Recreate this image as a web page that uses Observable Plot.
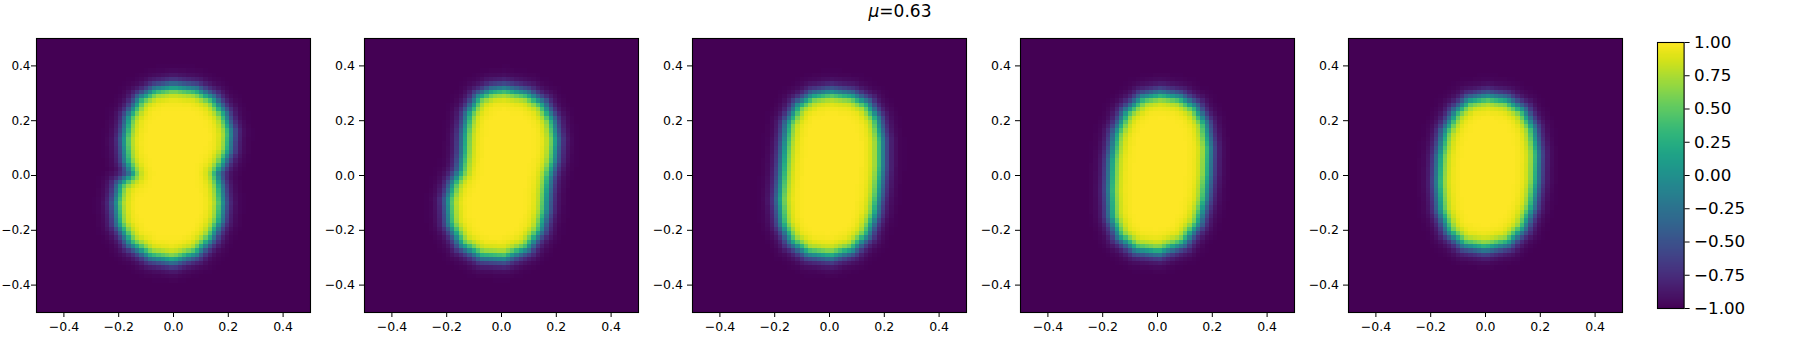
<!DOCTYPE html>
<html><head><meta charset="utf-8">
<script src="https://cdn.jsdelivr.net/npm/d3@7"></script>
<script src="https://cdn.jsdelivr.net/npm/@observablehq/plot@0.6"></script>
<style>
html,body{margin:0;padding:0;background:#fff;}
#fig{position:relative;width:1800px;height:350px;overflow:hidden;font-family:"DejaVu Sans",sans-serif;}
#fig > svg{position:absolute;top:0;}
#title{position:absolute;left:0;width:1800px;text-align:center;top:3px;font-size:17px;line-height:17px;color:#000;}
</style></head><body>
<div id="fig"><div id="title"><i>μ</i>=0.63</div></div>
<script>
// ---- data ----
const xTicks = [-0.4, -0.2, 0.0, 0.2, 0.4];
const yTicks = [-0.4, -0.2, 0.0, 0.2, 0.4];
const colorbarTicks = [-1.0, -0.75, -0.5, -0.25, 0.0, 0.25, 0.5, 0.75, 1.0];
const gridSize = 64;            // cells per side of each field
const interfaceWidth = 0.03;    // width of the diffuse interface (data units)

// zero-level contour (u = 0) of each panel, [x, y]
const contour1 = [[-0.001,0.326],[0.084,0.314],[0.145,0.281],[0.187,0.226],[0.208,0.159],[0.203,0.092],[0.181,0.044],[0.159,0.007],[0.172,-0.041],[0.179,-0.102],[0.172,-0.163],[0.139,-0.230],[0.084,-0.285],[-0.001,-0.312],[-0.086,-0.297],[-0.159,-0.248],[-0.202,-0.175],[-0.210,-0.102],[-0.198,-0.035],[-0.153,0.007],[-0.174,0.056],[-0.181,0.129],[-0.165,0.214],[-0.123,0.281],[-0.068,0.314]];
const contour2 = [[0.011,0.317],[0.096,0.299],[0.151,0.263],[0.187,0.202],[0.200,0.129],[0.193,0.056],[0.175,-0.005],[0.167,-0.066],[0.163,-0.127],[0.145,-0.200],[0.096,-0.267],[0.011,-0.303],[-0.074,-0.297],[-0.147,-0.254],[-0.190,-0.175],[-0.196,-0.090],[-0.178,-0.029],[-0.150,0.019],[-0.141,0.080],[-0.137,0.153],[-0.123,0.226],[-0.086,0.287],[-0.038,0.311]];
const contour3 = [[0.005,0.305],[0.084,0.293],[0.139,0.263],[0.175,0.208],[0.191,0.129],[0.191,0.031],[0.181,-0.066],[0.169,-0.139],[0.139,-0.218],[0.084,-0.273],[0.005,-0.297],[-0.080,-0.285],[-0.141,-0.242],[-0.174,-0.175],[-0.184,-0.090],[-0.174,0.007],[-0.165,0.104],[-0.153,0.190],[-0.117,0.257],[-0.062,0.293]];
const contour4 = [[0.011,0.299],[0.084,0.285],[0.139,0.250],[0.175,0.190],[0.190,0.104],[0.187,0.007],[0.175,-0.090],[0.151,-0.175],[0.096,-0.248],[0.005,-0.282],[-0.080,-0.270],[-0.141,-0.224],[-0.169,-0.151],[-0.174,-0.054],[-0.169,0.056],[-0.153,0.153],[-0.117,0.232],[-0.056,0.285]];
const contour5 = [[0.005,0.289],[0.078,0.277],[0.139,0.238],[0.175,0.171],[0.190,0.080],[0.187,-0.017],[0.172,-0.114],[0.139,-0.194],[0.084,-0.248],[-0.001,-0.268],[-0.080,-0.254],[-0.135,-0.206],[-0.165,-0.127],[-0.174,-0.029],[-0.169,0.068],[-0.150,0.159],[-0.111,0.232],[-0.062,0.275]];
const contours = [contour1, contour2, contour3, contour4, contour5];

// ---- build each cell's value from the contour (signed distance, tanh profile) ----
function segDist(px, py, a, b) {
  const dx = b[0]-a[0], dy = b[1]-a[1];
  let t = ((px-a[0])*dx + (py-a[1])*dy) / (dx*dx + dy*dy);
  t = Math.max(0, Math.min(1, t));
  const qx = a[0] + t*dx - px, qy = a[1] + t*dy - py;
  return Math.sqrt(qx*qx + qy*qy);
}
function fieldFrom(poly) {
  const n = gridSize, vals = new Array(n*n);
  for (let r = 0; r < n; r++) {
    const y = 0.5 - (r + 0.5)/n;
    for (let c = 0; c < n; c++) {
      const x = -0.5 + (c + 0.5)/n;
      let d = Infinity;
      for (let k = 0; k < poly.length; k++) d = Math.min(d, segDist(x, y, poly[k], poly[(k+1) % poly.length]));
      const s = d3.polygonContains(poly, [x, y]) ? d : -d;
      vals[r*n + c] = Math.tanh(s / interfaceWidth);
    }
  }
  return vals;
}

const fmt1 = d3.format(".1f");
const fmt2 = d3.format(".2f");
const colorScale = {type: "linear", scheme: "viridis", domain: [-1, 1]};
const fig = document.getElementById("fig");

contours.forEach((poly, i) => {
  const vals = fieldFrom(poly);
  const first = i === 0;
  const svg = Plot.plot({
    width: 328, height: 350,
    marginLeft: 36, marginRight: 18, marginTop: 38, marginBottom: 38,
    x: {domain: [-0.5, 0.5]},
    y: {domain: [-0.5, 0.5]},
    color: colorScale,
    style: {fontFamily: "'DejaVu Sans', sans-serif", fontSize: "12.5px", color: "#000", background: "transparent", overflow: "visible"},
    marks: [
      Plot.raster(vals, {width: gridSize, height: gridSize, x1: -0.5, x2: 0.5, y1: 0.5, y2: -0.5, fill: d => d, imageRendering: "pixelated"}),
      Plot.frame({stroke: "#000", strokeWidth: 1.1}),
      Plot.axisX({ticks: xTicks, tickFormat: fmt1, tickSize: 5, tickPadding: 4.5, label: null, anchor: "bottom"}),
      Plot.axisY({ticks: yTicks, tickFormat: fmt1, tickSize: 5, tickPadding: first ? 1 : 4.5, fontSize: first ? 12 : 12.5, label: null, anchor: "left"})
    ]
  });
  svg.style.left = (328 * i) + "px";
  fig.appendChild(svg);
});

// colorbar
const cb = Plot.plot({
  width: 140, height: 350,
  marginLeft: 10, marginRight: 103.4, marginTop: 42, marginBottom: 42,
  x: {domain: [0, 1], axis: null},
  y: {domain: [-1, 1]},
  color: colorScale,
  style: {fontFamily: "'DejaVu Sans', sans-serif", fontSize: "16.7px", color: "#000", background: "transparent", overflow: "visible"},
  marks: [
    Plot.raster({fill: (x, y) => y, x1: 0, x2: 1, y1: 1, y2: -1, width: 1, height: 266}),
    Plot.frame({stroke: "#000", strokeWidth: 1.1}),
    Plot.axisY({anchor: "right", ticks: colorbarTicks, tickFormat: fmt2, tickSize: 5, tickPadding: 5, label: null})
  ]
});
cb.style.left = "1646.7px";
fig.appendChild(cb);
</script>
</body></html>
